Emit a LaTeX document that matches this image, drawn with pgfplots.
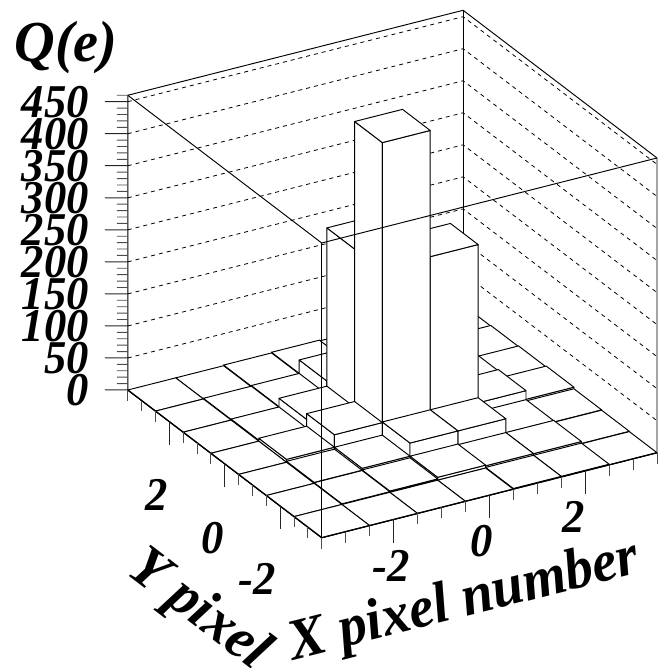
\documentclass[border=0pt]{standalone}
\usepackage{fontspec}
\setmainfont{Liberation Serif}
\usepackage{graphicx}
\usepackage{pgfplots}
\pgfplotsset{compat=1.18}

% one lego column: x0 x1 y0 y1 height (left wall, front wall, top)
\newcommand{\bin}[5]{%
  \addplot3[binstyle] coordinates {(#1,#3,0) (#1,#4,0) (#1,#4,#5) (#1,#3,#5) (#1,#3,0)};
  \addplot3[binstyle] coordinates {(#1,#3,0) (#2,#3,0) (#2,#3,#5) (#1,#3,#5) (#1,#3,0)};
  \addplot3[binstyle] coordinates {(#1,#3,#5) (#2,#3,#5) (#2,#4,#5) (#1,#4,#5) (#1,#3,#5)};
}
\pgfplotsset{binstyle/.style={draw=black,fill=white,line width=0.95pt,line join=round}}
\newcommand{\lab}[1]{\scalebox{0.95}[1]{#1}}
\newcommand{\biglab}[1]{\scalebox{0.97}[1]{#1}}

\begin{document}
\begin{tikzpicture}
\begin{axis}[
    hide axis,
    clip=false,
    x={(47.9pt,12.14pt)},
    y={(-27.7pt,21.1pt)},
    z={(0pt,0.6407pt)},
    xmin=-3.5,xmax=3.5,
    ymin=-3.5,ymax=3.5,
    zmin=0,zmax=460,
    enlargelimits=false,
]
\coordinate (F) at (axis cs:-3.5,-3.5,0);

% dashed lines on the two back walls
\pgfplotsinvokeforeach{50,100,150,200,250,300,350,400,450}{
  \addplot3[black,line width=0.8pt,dash pattern=on 4pt off 4pt] coordinates {(-3.5,3.5,#1) (3.5,3.5,#1) (3.5,-3.5,#1)};
}
% back of the frame
\addplot3[black,line width=0.95pt] coordinates {(-3.5,3.5,0) (-3.5,3.5,460) (3.5,3.5,460) (3.5,-3.5,460) (3.5,-3.5,0)};
\addplot3[black,line width=0.95pt] coordinates {(3.5,3.5,0) (3.5,3.5,460)};

% columns, far to near
\bin{2.5}{3.5}{2.5}{3.5}{0}
\bin{1.5}{2.5}{2.5}{3.5}{0}
\bin{0.5}{1.5}{2.5}{3.5}{0.8}
\bin{-0.5}{0.5}{2.5}{3.5}{2}
\bin{-1.5}{-0.5}{2.5}{3.5}{1}
\bin{-2.5}{-1.5}{2.5}{3.5}{0}
\bin{-3.5}{-2.5}{2.5}{3.5}{0}

\bin{2.5}{3.5}{1.5}{2.5}{1}
\bin{1.5}{2.5}{1.5}{2.5}{2}
\bin{0.5}{1.5}{1.5}{2.5}{6}
\bin{-0.5}{0.5}{1.5}{2.5}{23}
\bin{-1.5}{-0.5}{1.5}{2.5}{2}
\bin{-2.5}{-1.5}{1.5}{2.5}{1}
\bin{-3.5}{-2.5}{1.5}{2.5}{0}

\bin{2.5}{3.5}{0.5}{1.5}{2}
\bin{1.5}{2.5}{0.5}{1.5}{15}
\bin{0.5}{1.5}{0.5}{1.5}{30}
\bin{-0.5}{0.5}{0.5}{1.5}{262}
\bin{-1.5}{-0.5}{0.5}{1.5}{15}
\bin{-2.5}{-1.5}{0.5}{1.5}{1.5}
\bin{-3.5}{-2.5}{0.5}{1.5}{0}

\bin{2.5}{3.5}{-0.5}{0.5}{3.5}
\bin{1.5}{2.5}{-0.5}{0.5}{17}
\bin{0.5}{1.5}{-0.5}{0.5}{264}
\bin{-0.5}{0.5}{-0.5}{0.5}{461}
\bin{-1.5}{-0.5}{-0.5}{0.5}{24}
\bin{-2.5}{-1.5}{-0.5}{0.5}{4.5}
\bin{-3.5}{-2.5}{-0.5}{0.5}{0}

\bin{2.5}{3.5}{-1.5}{-0.5}{1}
\bin{1.5}{2.5}{-1.5}{-0.5}{3}
\bin{0.5}{1.5}{-1.5}{-0.5}{25}
\bin{-0.5}{0.5}{-1.5}{-0.5}{25}
\bin{-1.5}{-0.5}{-1.5}{-0.5}{4.5}
\bin{-2.5}{-1.5}{-1.5}{-0.5}{1.5}
\bin{-3.5}{-2.5}{-1.5}{-0.5}{0}

\bin{2.5}{3.5}{-2.5}{-1.5}{0.5}
\bin{1.5}{2.5}{-2.5}{-1.5}{3.5}
\bin{0.5}{1.5}{-2.5}{-1.5}{3.5}
\bin{-0.5}{0.5}{-2.5}{-1.5}{4.5}
\bin{-1.5}{-0.5}{-2.5}{-1.5}{2}
\bin{-2.5}{-1.5}{-2.5}{-1.5}{1}
\bin{-3.5}{-2.5}{-2.5}{-1.5}{0}

\bin{2.5}{3.5}{-3.5}{-2.5}{0}
\bin{1.5}{2.5}{-3.5}{-2.5}{1}
\bin{0.5}{1.5}{-3.5}{-2.5}{1}
\bin{-0.5}{0.5}{-3.5}{-2.5}{0}
\bin{-1.5}{-0.5}{-3.5}{-2.5}{0}
\bin{-2.5}{-1.5}{-3.5}{-2.5}{0}
\bin{-3.5}{-2.5}{-3.5}{-2.5}{0}

% front of the frame, drawn over the columns
\addplot3[black,line width=0.95pt] coordinates {(-3.5,3.5,460) (-3.5,-3.5,460) (3.5,-3.5,460)};
\addplot3[black,line width=0.95pt] coordinates {(-3.5,-3.5,-17) (-3.5,-3.5,460)};
\addplot3[black,line width=1.3pt] coordinates {(-3.5,3.5,0) (-3.5,-3.5,0) (3.5,-3.5,0)};

% x and y ticks hang straight down
\pgfplotsinvokeforeach{-3.5,-3,-2.5,-1.5,-1,-0.5,0.5,1,1.5,2.5,3,3.5}{
  \addplot3[black!70,line width=0.9pt] coordinates {(#1,-3.5,0) (#1,-3.5,-17)};
  \addplot3[black!70,line width=0.9pt] coordinates {(-3.5,#1,0) (-3.5,#1,-17)};
}
\pgfplotsinvokeforeach{-2,0,2}{
  \addplot3[black!85,line width=1pt] coordinates {(#1,-3.5,0) (#1,-3.5,-36)};
  \addplot3[black!85,line width=1pt] coordinates {(-3.5,#1,0) (-3.5,#1,-36)};
}
% z ticks point left (x shift plus z shift gives a horizontal stroke)
\pgfplotsinvokeforeach{10,20,30,40,60,70,80,90,110,120,130,140,160,170,180,190,210,220,230,240,260,270,280,290,310,320,330,340,360,370,380,390,410,420,430,440,460}{
  \addplot3[black!70,line width=0.9pt] coordinates {(-3.5,3.5,#1) (-3.7296,3.5,#1+4.35)};
}
\pgfplotsinvokeforeach{0,50,100,150,200,250,300,350,400,450}{
  \addplot3[black!85,line width=1pt] coordinates {(-3.5,3.5,#1) (-3.98,3.5,#1+9.1)};
}
\end{axis}

\pgfresetboundingbox
% text placed in the pixel frame of the reference
\begin{scope}[x=1pt,y=-1pt,shift={(F)},shift={(-321.7,-537.7)}]
\path[use as bounding box] (0,0) rectangle (657,668);
\tikzset{lab/.style={inner sep=0pt,font=\fontsize{47}{47}\selectfont\bfseries\itshape},
         biglab/.style={inner sep=0pt,font=\fontsize{58}{58}\selectfont\bfseries\itshape}}
\foreach \v/\y in {0/390,50/358,100/326,150/294,200/262,250/230,300/198,350/166,400/134,450/102}
  \node[lab,anchor=east] at (89,\y) {\lab{\v}};
\node[biglab,anchor=center] at (66,48) {\biglab{Q(e)}};
\node[lab] at (391,566) {\lab{-2}};
\node[lab] at (482,541) {\lab{0}};
\node[lab] at (574,517) {\lab{2}};
\node[lab] at (157,495) {\lab{2}};
\node[lab] at (213,538) {\lab{0}};
\node[lab] at (257,579) {\lab{-2}};
\node[biglab,anchor=base,rotate=14.2] at (468,616) {\biglab{X pixel number}};
\node[biglab,anchor=base,rotate=-37.3] at (190,622) {\biglab{Y pixel}};
\end{scope}
\end{tikzpicture}
\end{document}
